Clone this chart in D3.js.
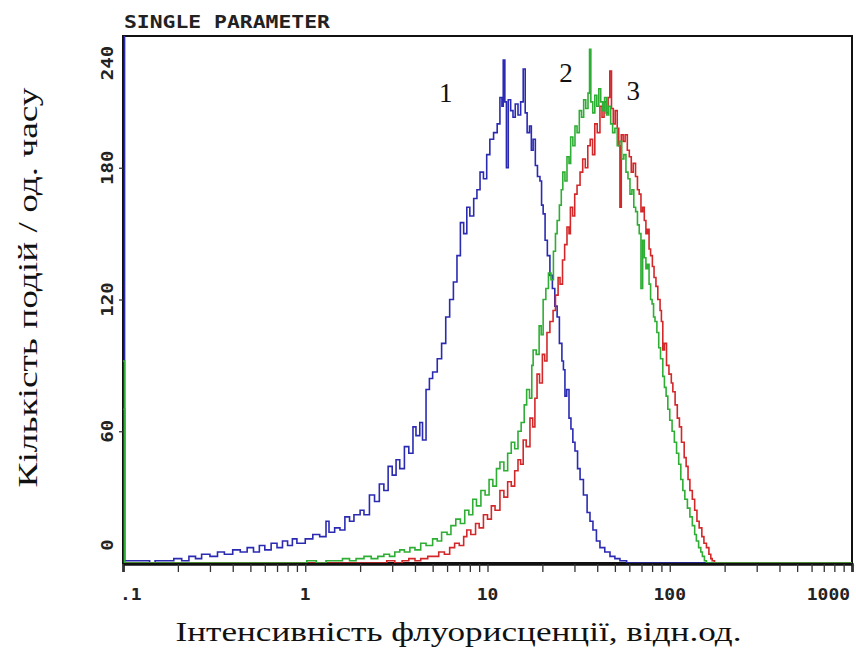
<!DOCTYPE html>
<html lang="uk">
<head>
<meta charset="UTF-8" />
<title>Single parameter histogram</title>
<script src="https://d3js.org/d3.v7.min.js"></script>
<style>
  body { margin: 0; background: #fff; }
  svg { display: block; }
</style>
</head>
<body>
<div id="chart"></div>
<script>
  // intensity (rel. units), events per channel
  const series1 = [
    [0.1, 250], [0.102, 1], [0.12, 1], [0.14, 0], [0.15, 1], [0.17, 1], [0.19, 2], [0.21, 1],
    [0.23, 3], [0.25, 2], [0.27, 4], [0.3, 3], [0.33, 5], [0.36, 4], [0.4, 6], [0.44, 5],
    [0.48, 7], [0.52, 5], [0.56, 8], [0.6, 6], [0.65, 9], [0.7, 7], [0.75, 10], [0.8, 8],
    [0.85, 11], [0.9, 9], [1.0, 11], [1.1, 13], [1.2, 12], [1.3, 19], [1.35, 14], [1.45, 16],
    [1.55, 15], [1.65, 21], [1.75, 19], [1.85, 22], [2.0, 24], [2.1, 22], [2.25, 31], [2.4, 28],
    [2.55, 36], [2.7, 33], [2.85, 44], [3.0, 40], [3.15, 47], [3.3, 43], [3.5, 53], [3.7, 50],
    [3.9, 62], [4.05, 58], [4.25, 64], [4.4, 56], [4.6, 79], [4.8, 84], [5.0, 87], [5.3, 93],
    [5.6, 100], [5.9, 112], [6.2, 120], [6.5, 128], [6.8, 140], [7.1, 155], [7.4, 150], [7.7, 162],
    [8.0, 158], [8.4, 166], [8.75, 170], [9.1, 178], [9.5, 175], [9.9, 186], [10.3, 193], [10.8, 196],
    [11.3, 200], [11.7, 212], [12.0, 208], [12.2, 229], [12.45, 210], [12.7, 180], [13.0, 211], [13.4, 206],
    [13.8, 203], [14.2, 209], [14.7, 204], [15.2, 210], [15.7, 225], [16.1, 205], [16.5, 196], [17.0, 199],
    [17.4, 188], [17.8, 193], [18.3, 181], [18.8, 176], [19.4, 174], [19.8, 163], [20.2, 159], [20.7, 147],
    [21.3, 140], [22.0, 131], [22.7, 125], [23.4, 117], [24.1, 112], [24.8, 100], [25.6, 92], [26.1, 88],
    [26.6, 76], [27.2, 79], [28.0, 66], [28.7, 61], [29.4, 55], [30.2, 51], [31.2, 43], [32.2, 38],
    [33.6, 31], [35.2, 23], [36.5, 19], [37.9, 15], [39.6, 10], [41.4, 7], [44, 5], [47, 3],
    [50, 2], [53.3, 1], [58, 0], [1000, 0]
  ]

  const series2 = [
    [0.1, 92], [0.102, 0], [0.98, 0], [1.02, 1], [1.15, 0], [1.3, 1], [1.45, 1], [1.6, 2],
    [1.75, 1], [1.9, 2], [2.1, 3], [2.3, 2], [2.5, 3], [2.7, 4], [2.9, 3], [3.1, 5],
    [3.3, 6], [3.5, 5], [3.75, 7], [4.0, 6], [4.3, 9], [4.6, 8], [5.0, 11], [5.3, 10],
    [5.6, 14], [6.0, 13], [6.3, 17], [6.7, 20], [7.1, 18], [7.5, 24], [7.9, 22], [8.3, 29],
    [8.7, 26], [9.2, 33], [9.7, 31], [10.2, 38], [10.7, 35], [11.2, 43], [11.7, 46], [12.3, 42],
    [12.9, 50], [13.5, 55], [14.1, 52], [14.7, 60], [15.3, 64], [15.9, 72], [16.4, 79], [17.0, 75],
    [17.5, 90], [17.8, 97], [18.5, 95], [19.2, 108], [19.7, 104], [20.2, 120], [20.9, 125], [21.6, 132],
    [22.3, 129], [23.0, 142], [23.6, 150], [24.1, 156], [24.8, 163], [25.4, 170], [25.9, 178], [26.6, 174],
    [27.3, 185], [28.0, 182], [28.6, 194], [29.4, 190], [30.2, 199], [31.0, 196], [31.9, 206], [32.8, 203],
    [33.7, 211], [34.6, 207], [35.6, 214], [36.3, 234], [36.9, 210], [37.8, 205], [38.8, 213], [39.8, 208],
    [40.8, 216], [41.8, 210], [42.8, 206], [43.9, 212], [45.0, 204], [46.2, 208], [47.4, 200], [48.6, 196],
    [50.0, 198], [51.5, 190], [53, 192], [54.5, 184], [56, 186], [57.5, 178], [59, 175], [60.5, 168],
    [62, 170], [63.5, 162], [65, 160], [66.5, 154], [68, 150], [69.5, 125], [71, 147], [72.5, 139],
    [74, 134], [75.5, 136], [77, 127], [78.5, 120], [80, 118], [81.5, 112], [83, 110], [85, 105],
    [87, 98], [89, 93], [91.6, 85], [93.5, 80], [95.5, 76], [97.6, 70], [100, 65], [103, 60],
    [106, 55], [109, 50], [112, 45], [115, 38], [118, 33], [121, 29], [125, 25], [129, 21],
    [133, 17], [137, 13], [140, 10], [144, 7], [148, 5], [151, 3], [155, 1], [159, 0],
    [1000, 0]
  ]

  const series3 = [
    [0.1, 70], [0.102, 0], [2.5, 0], [2.8, 1], [3.1, 0], [3.4, 1], [3.7, 2], [4.0, 1],
    [4.3, 2], [4.7, 3], [5.0, 3], [5.4, 5], [5.8, 4], [6.2, 7], [6.6, 9], [7.0, 8],
    [7.4, 12], [7.7, 15], [8.1, 13], [8.6, 18], [9.0, 16], [9.5, 22], [10.0, 20], [10.5, 26],
    [11.0, 24], [11.7, 33], [12.3, 30], [12.9, 37], [13.5, 35], [14.1, 42], [14.7, 47], [15.2, 45],
    [15.7, 56], [16.3, 53], [17.1, 66], [17.7, 62], [18.2, 75], [18.7, 86], [19.3, 82], [20.0, 95],
    [20.6, 92], [21.2, 105], [22.0, 110], [22.9, 115], [23.6, 122], [24.4, 130], [25.0, 127], [25.8, 138],
    [26.5, 145], [27.3, 153], [28.0, 150], [28.5, 162], [29.3, 158], [30.1, 168], [31.0, 172], [32.2, 178],
    [33.3, 184], [34.4, 180], [35.5, 190], [36.6, 193], [37.7, 186], [38.8, 200], [40.0, 196], [41.4, 208],
    [42.5, 203], [43.6, 210], [44.8, 205], [45.9, 212], [46.9, 224], [47.9, 207], [49.0, 200], [50.2, 206],
    [51.5, 198], [52.5, 190], [53.3, 162], [54.2, 195], [55.5, 192], [56.9, 195], [58.5, 188], [60, 185],
    [61.5, 178], [63, 182], [64.9, 176], [66.5, 170], [68, 168], [69.5, 160], [71, 162], [72.5, 156],
    [74, 150], [75.5, 152], [77, 143], [78.5, 140], [80.3, 135], [82, 130], [84, 126], [86, 120],
    [88.5, 115], [90, 110], [91.6, 97], [93.5, 100], [96, 90], [99, 86], [102, 82], [104, 78],
    [107, 72], [110, 66], [113, 62], [116, 55], [120, 48], [123, 44], [126, 38], [129, 33],
    [133, 29], [137, 24], [141, 19], [145, 16], [150, 12], [154, 9], [159, 7], [164, 4],
    [168, 2], [171, 1], [176, 0], [1000, 0]
  ]

  const curveNames = ["1", "2", "3"]
  const curveColors = ["#2b2bb2", "#2fae35", "#d3282a"]
  // where each number sits: [intensity, count]
  const curveLabelPos = [[5.9, 210], [27, 219], [63, 211]]

  const xMajor = [0.1, 1, 10, 100, 1000]
  const xLabels = [".1", "1", "10", "100", "1000"]
  const yTicks = [0, 60, 120, 180, 240]

  const title = "SINGLE PARAMETER"
  const xTitle = "Інтенсивність флуорисценції, відн.од."
  const yTitle = "Кількість подій / од. часу"

  const width = 856
  const height = 650

  const svg = d3
    .select("#chart")
    .append("svg")
    .attr("width", width)
    .attr("height", height)

  const x = d3.scaleLog().domain([0.1, 1000]).range([123, 852])
  const y = d3.scaleLinear().domain([0, 240]).range([563, 36])

  svg
    .append("clipPath")
    .attr("id", "plot")
    .append("rect")
    .attr("x", x(0.1))
    .attr("y", y(240))
    .attr("width", x(1000) - x(0.1))
    .attr("height", y(0) - y(240))

  // frame
  svg
    .append("rect")
    .attr("x", x(0.1))
    .attr("y", y(240))
    .attr("width", x(1000) - x(0.1))
    .attr("height", y(0) - y(240))
    .attr("fill", "none")
    .attr("stroke", "#111")
    .attr("stroke-width", 2)

  const line = d3
    .line()
    .x((d) => x(d[0]))
    .y((d) => y(d[1]))
    .curve(d3.curveStepAfter)

  // blue under, then red, then green
  const drawOrder = [
    [series1, curveColors[0]],
    [series3, curveColors[2]],
    [series2, curveColors[1]]
  ]
  svg
    .append("g")
    .attr("clip-path", "url(#plot)")
    .selectAll("path")
    .data(drawOrder)
    .enter()
    .append("path")
    .attr("d", (d) => line(d[0]))
    .attr("fill", "none")
    .attr("stroke", (d) => d[1])
    .attr("stroke-width", 1.6)

  // x axis (log, minor ticks every unit)
  const xAxis = svg
    .append("g")
    .attr("transform", `translate(0,${y(0) + 1})`)
    .call(
      d3
        .axisBottom(x)
        .tickValues(x.ticks())
        .tickSize(8)
        .tickFormat(() => "")
    )
  xAxis.select(".domain").attr("stroke", "#111").attr("stroke-width", 2.5)
  xAxis.selectAll(".tick line").attr("stroke", "#333").attr("stroke-width", 1.3)

  svg
    .append("g")
    .selectAll("text")
    .data(xMajor)
    .enter()
    .append("text")
    .attr("x", (d, i) => x(d) + (i === 0 ? -3 : i === xMajor.length - 1 ? -2 : 0))
    .attr("y", y(0) + 37)
    .attr("text-anchor", (d, i) => (i === 0 ? "start" : i === xMajor.length - 1 ? "end" : "middle"))
    .attr("font-family", "DejaVu Sans Mono, monospace")
    .attr("font-weight", "bold")
    .attr("font-size", 16)
    .attr("textLength", (d, i) => xLabels[i].length * 10.8)
    .attr("lengthAdjust", "spacingAndGlyphs")
    .attr("fill", "#222")
    .text((d, i) => xLabels[i])

  // y axis ticks
  const yAxis = svg
    .append("g")
    .attr("transform", `translate(${x(0.1)},0)`)
    .call(d3.axisLeft(y).tickValues(yTicks.slice(1, -1)).tickSize(4).tickFormat(() => ""))
  yAxis.select(".domain").remove()
  yAxis.selectAll(".tick line").attr("stroke", "#333").attr("stroke-width", 1.3)

  svg
    .append("g")
    .selectAll("text")
    .data(yTicks)
    .enter()
    .append("text")
    .attr("transform", (d, i) => {
      const shift = i === 0 ? -18 : i === yTicks.length - 1 ? 27 : 0
      return `translate(${x(0.1) - 10},${y(d) + shift}) rotate(-90)`
    })
    .attr("text-anchor", "middle")
    .attr("font-family", "DejaVu Sans Mono, monospace")
    .attr("font-weight", "bold")
    .attr("font-size", 15)
    .attr("textLength", (d) => String(d).length * 11.5)
    .attr("lengthAdjust", "spacingAndGlyphs")
    .attr("fill", "#222")
    .text((d) => d)

  // header
  svg
    .append("text")
    .attr("x", x(0.1) + 1)
    .attr("y", y(240) - 8)
    .attr("font-family", "DejaVu Sans Mono, monospace")
    .attr("font-weight", "bold")
    .attr("font-size", 17)
    .attr("textLength", 206)
    .attr("lengthAdjust", "spacingAndGlyphs")
    .attr("fill", "#222")
    .text(title)

  // curve numbers
  svg
    .append("g")
    .selectAll("text")
    .data(curveLabelPos)
    .enter()
    .append("text")
    .attr("x", (d) => x(d[0]))
    .attr("y", (d) => y(d[1]))
    .attr("text-anchor", "middle")
    .attr("font-family", "Liberation Serif, serif")
    .attr("font-size", 27)
    .attr("fill", "#111")
    .text((d, i) => curveNames[i])

  // axis titles
  svg
    .append("text")
    .attr("x", (x(0.1) + x(1000)) / 2 - 29)
    .attr("y", 641)
    .attr("text-anchor", "middle")
    .attr("font-family", "Liberation Serif, serif")
    .attr("font-size", 27)
    .attr("textLength", 566)
    .attr("lengthAdjust", "spacingAndGlyphs")
    .attr("fill", "#111")
    .text(xTitle)

  svg
    .append("text")
    .attr("transform", `translate(37,${(y(0) + y(240)) / 2 - 12}) rotate(-90)`)
    .attr("text-anchor", "middle")
    .attr("font-family", "Liberation Serif, serif")
    .attr("font-size", 27)
    .attr("textLength", 400)
    .attr("lengthAdjust", "spacingAndGlyphs")
    .attr("fill", "#111")
    .text(yTitle)
</script>
</body>
</html>
